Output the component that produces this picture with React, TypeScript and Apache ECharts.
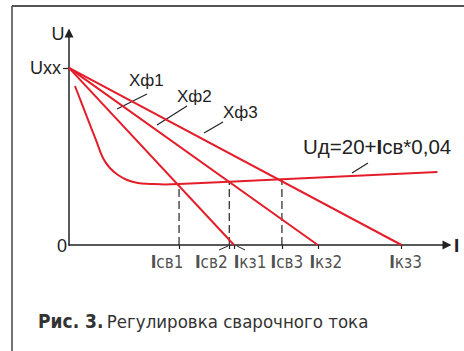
import { useEffect, useRef } from "react";
import * as echarts from "echarts";

// Open-circuit voltage, V
const uxx = 63.5;
// Short-circuit currents Iкз1..Iкз3, A
const shortCircuitI = [69, 104, 139];
// Welding currents Iсв1..Iсв3 (operating points), A
const weldI = [46, 67, 89];
// Arc characteristic Uд = 20 + Iсв * 0,04
const arcU0 = 20;
const arcK = 0.04;
const arcEndI = 154;
// Steep (falling) part of the arc characteristic at low current
const kneeI = [2.5, 7.5, 11.3, 14.2, 17.1, 20.5, 24.3, 28.8, 33.9, 40.1];
const kneeU = [57.0, 45.9, 37.6, 31.2, 27.6, 25.1, 23.3, 22.2, 21.9, 21.7];
// Axis tick labels under the current axis
const tickNames = ["св1", "св2", "кз1", "св3", "кз2", "кз3"];
const tickValues = [weldI[0], weldI[1], shortCircuitI[0], weldI[2], shortCircuitI[1], shortCircuitI[2]];
const tickShift = [-12, -18, 16, 5, 8, 4];

const RED = "#e31e2a";
const INK = "#222";
const SANS = "'Liberation Sans', Arial, sans-serif";
const NARROW = "'Liberation Sans Narrow', 'Arial Narrow', 'DejaVu Sans Condensed', sans-serif";

const arcU = (i: number) => arcU0 + arcK * i;

export default function App() {
  const ref = useRef<HTMLDivElement>(null);

  useEffect(() => {
    if (!ref.current) return;
    const chart = echarts.init(ref.current, null, { renderer: "svg" });

    // falling knee, joined to the straight arc line at the first operating point
    const knee: number[][] = kneeI.map((i, k) => [i, kneeU[k]]);
    knee.push([weldI[0], arcU(weldI[0])]);
    const straight: number[][] = weldI.map((i) => [i, arcU(i)]);
    straight.push([arcEndI, arcU(arcEndI)]);

    const series: any[] = [];
    weldI.forEach((i) => {
      series.push({
        type: "line",
        data: [[i, 0], [i, arcU(i)]],
        symbol: "none",
        lineStyle: { color: "#333", width: 1.3, type: [8, 4] },
        z: 1,
      });
    });
    shortCircuitI.forEach((ik) => {
      series.push({
        type: "line",
        data: [[0, uxx], [ik, 0]],
        symbol: "none",
        lineStyle: { color: RED, width: 2 },
        z: 3,
      });
    });
    series.push({
      type: "line",
      data: knee,
      symbol: "none",
      smooth: 0.4,
      lineStyle: { color: RED, width: 2 },
      z: 3,
    });
    series.push({
      type: "line",
      data: straight,
      symbol: "none",
      lineStyle: { color: RED, width: 2 },
      z: 3,
    });
    series.push({
      type: "scatter",
      symbolSize: 0,
      silent: true,
      data: tickValues.map((v, k) => ({
        value: [v, 0],
        label: {
          show: true,
          position: "inside",
          offset: [tickShift[k], 17],
          formatter: "{b|I}{r|" + tickNames[k] + "}",
          rich: {
            b: { fontFamily: NARROW, fontSize: 17, fontWeight: "bold", color: INK },
            r: { fontFamily: NARROW, fontSize: 17, color: INK },
          },
        },
      })),
      z: 5,
    });

    const txt = (text: string, x: number, y: number, size: number, align = "left", weight = "normal") => ({
      type: "text",
      x,
      y,
      style: { text, fontSize: size, fontFamily: SANS, fontWeight: weight, fill: INK, align, verticalAlign: "middle" },
    });
    const seg = (x1: number, y1: number, x2: number, y2: number, w = 1.2, c = INK) => ({
      type: "line",
      shape: { x1, y1, x2, y2 },
      style: { stroke: c, lineWidth: w },
    });

    chart.setOption({
      animation: false,
      grid: { left: 69, right: 17, top: 33, bottom: 106 },
      xAxis: {
        type: "value",
        min: 0,
        max: 158,
        axisLine: { lineStyle: { color: INK, width: 1.5 }, symbol: ["none", "triangle"], symbolSize: [9, 9] },
        axisTick: { show: true, customValues: tickValues, length: 4, lineStyle: { color: INK, width: 1.2 } },
        axisLabel: { show: false },
        splitLine: { show: false },
      },
      yAxis: {
        type: "value",
        min: 0,
        max: 76,
        axisLine: { show: true, lineStyle: { color: INK, width: 1.5 }, symbol: ["none", "triangle"], symbolSize: [9, 9] },
        axisTick: { show: true, customValues: [uxx], length: 6, lineStyle: { color: INK, width: 1.2 } },
        axisLabel: { show: false },
        splitLine: { show: false },
      },
      series,
      graphic: [
        // frame
        seg(12, 6, 464, 6, 2, "#555"),
        seg(12, 6, 12, 351, 1.5, "#444"),
        // axis captions
        txt("U", 58, 34, 18, "center"),
        txt("Uxx", 61, 68, 18, "right"),
        txt("0", 62, 246, 18, "center"),
        txt("I", 454, 245, 19, "left", "bold"),
        // reactance labels
        txt("Xф1", 129, 80, 17),
        seg(117, 109, 147, 94),
        txt("Xф2", 177, 96, 17),
        seg(157, 125, 187, 106),
        txt("Xф3", 223, 112, 17),
        seg(204, 133, 223, 122),
        {
          type: "text",
          x: 303,
          y: 146,
          style: {
            text: "{r|Uд=20+}{b|I}{r|св*0,04}",
            verticalAlign: "middle",
            rich: {
              r: { fontSize: 20.5, fontFamily: SANS, fill: INK },
              b: { fontSize: 20.5, fontFamily: SANS, fontWeight: "bold", fill: INK },
            },
          },
        },
        seg(352, 173, 368, 163),
        // leaders for the crowded tick labels
        seg(219, 250, 228, 246, 1),
        seg(237, 246, 245, 250, 1),
        // figure caption
        {
          type: "text",
          x: 38,
          y: 321,
          style: {
            text: "{b|Рис. 3.} {r|Регулировка сварочного тока}",
            verticalAlign: "middle",
            rich: {
              b: { fontSize: 19, fontFamily: NARROW, fontWeight: "bold", fill: "#333" },
              r: { fontSize: 18.5, fontFamily: NARROW, fill: "#333" },
            },
          },
        },
      ],
    });

    return () => chart.dispose();
  }, []);

  return (
    <div
      ref={ref}
      style={{ position: "fixed", left: 0, top: 0, width: 464, height: 351, background: "#fff" }}
    />
  );
}
